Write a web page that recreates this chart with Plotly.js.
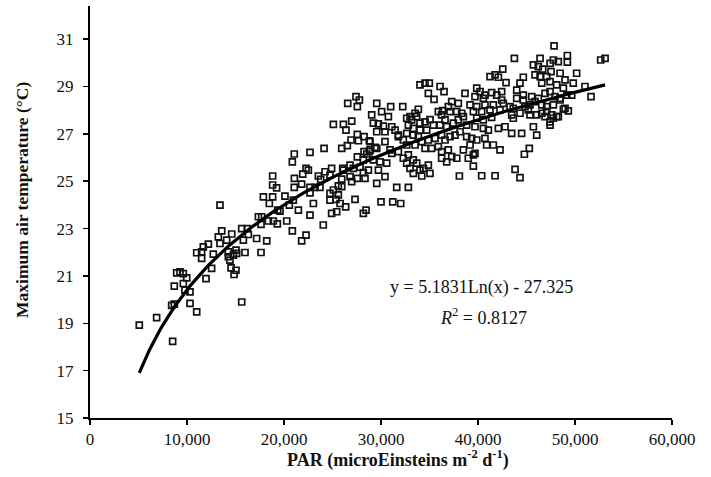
<!DOCTYPE html>
<html>
<head>
<meta charset="utf-8">
<script src="https://cdn.plot.ly/plotly-3.0.1.min.js"></script>
<style>
html,body{margin:0;padding:0;background:#fff;}
#chart{width:711px;height:477px;}
</style>
</head>
<body>
<div id="chart"></div>
<script>
// PAR (microEinsteins m-2 d-1)
const par = [
13400,17870,18830,18490,19350,17360,17700,18390,18900,19310,17630,15640,16220,13580,14610,13230,14090,16320,17180,15810,
18220,13400,12200,11680,11000,11510,11510,12710,14260,15050,14260,14780,15120,15980,17630,14430,12540,14540,15050,14850,
11960,8940,9280,9620,9970,9620,8690,9790,10310,15640,8420,8690,10310,11000,6870,5080,8520,18830,18830,19240,
27420,26570,27560,27770,25090,26120,26980,26390,27560,26910,27670,28250,28800,26530,25950,24130,22680,21060,20860,27560,
28180,28530,28250,28800,26810,26120,27150,27840,28180,28700,22270,22510,24910,26050,24230,21930,21070,23540,23780,24740,
25950,26810,27560,28350,26980,21820,21060,22680,23200,23710,25090,25600,25950,24740,25360,
20100,20960,20550,21480,19590,20280,20860,22270,21820,22680,23030,22680,24050,24740,25600,24910,25430,25780,26360,27320,28180,28460,
34020,34540,34980,36090,36500,34880,35470,38660,29560,31000,32240,30070,30760,29040,33850,33510,32990,37290,37970,36940,
36360,37120,37810,38320,29210,29730,30250,29560,30410,31110,31450,31790,32650,33160,33680,34020,34540,35050,35400,32820,
33330,34020,34710,35910,36250,36600,36090,36770,37460,37970,38490,38830,28870,29380,30410,30930,31790,32300,32650,33330,
33850,32650,33510,34200,34880,35570,34540,35220,35910,36250,36600,37120,37630,38150,38830,36250,36940,36250,37290,37810,
36770,38490,39000,29560,29210,29900,30590,29730,30410,29560,31110,31790,32300,32820,33330,33680,32650,32990,34020,34370,
34880,35050,33330,34200,38080,31620,32820,30000,31210,32030,28870,
47840,43750,46400,47770,48280,49210,49210,52650,53100,42550,41760,41240,42100,45710,46220,46670,47430,47530,47080,46400,
48460,48970,50170,49820,44670,44330,42890,42440,39870,40210,40720,41410,41930,45880,46570,47430,48110,48800,43990,44670,
45540,46220,46910,47430,47940,48460,49150,49660,51030,51650,39690,40550,42440,43990,44670,39180,39870,40720,41580,42610,
43300,44850,45360,45880,46570,47080,47770,48460,48970,39520,40380,41240,42270,43640,44330,45190,46050,46570,47080,47600,
48110,48800,49310,39870,40550,41410,43470,43640,45360,46910,47430,47770,48280,47430,39690,40550,41070,42100,42780,43470,
44500,45710,46050,39350,39870,40720,40890,41580,42270,39180,39520,39690,39520,40380,41760,43820,44330,44780,45290
];
// Maximum air temperature (°C)
const tmax = [
23.99,24.34,24.34,24.06,23.78,23.50,23.50,23.32,23.32,23.20,23.18,23.00,23.00,22.90,22.77,22.65,22.51,22.75,22.58,22.51,
22.48,22.37,22.34,22.23,21.98,22.02,21.74,21.92,22.02,22.09,21.81,21.88,21.95,21.99,21.99,21.67,21.32,21.34,21.24,21.06,
20.89,21.13,21.17,21.10,20.92,20.68,20.57,20.40,20.33,19.90,19.76,19.81,19.84,19.48,19.24,18.92,18.24,25.22,24.84,24.72,
28.57,28.29,28.15,28.43,27.40,27.40,27.54,27.16,26.98,26.74,26.71,26.88,26.71,26.50,26.39,26.39,26.22,26.15,25.82,26.03,
25.90,26.15,26.25,26.25,25.68,25.47,25.54,25.59,25.36,25.47,25.54,25.47,25.54,25.54,25.40,25.30,25.12,25.22,25.08,25.26,
25.09,25.19,25.12,25.12,24.98,24.88,24.74,24.74,24.74,24.74,24.63,24.80,24.77,24.49,24.23,
24.37,24.20,23.99,23.78,23.74,23.32,22.90,22.72,22.48,24.51,24.06,23.57,23.15,24.20,24.42,23.64,23.71,24.06,23.92,24.23,23.64,23.78,
29.07,29.14,29.14,29.00,28.78,28.71,28.46,28.71,28.29,28.15,28.15,27.94,27.73,27.80,28.04,27.87,27.73,28.36,28.29,28.15,
27.98,27.94,27.94,27.87,27.45,27.42,27.33,27.09,27.09,27.30,27.16,26.95,27.66,27.59,27.73,27.45,27.51,27.60,27.37,27.37,
27.23,27.16,27.16,27.94,27.80,27.59,27.37,27.30,27.45,27.59,27.73,27.37,26.67,26.43,26.67,26.32,26.88,26.74,27.02,26.95,
26.88,26.53,26.53,26.67,26.74,26.81,26.39,26.39,26.46,26.95,26.74,26.88,26.95,27.09,26.88,26.25,26.32,25.97,26.04,25.97,
25.82,26.32,25.97,26.39,25.90,25.82,25.76,25.47,25.19,24.91,26.18,26.25,25.97,26.11,25.90,25.76,25.76,25.54,25.47,25.54,
25.68,25.33,25.33,25.22,25.22,24.74,24.74,24.13,24.13,24.06,26.32,
30.72,30.19,30.19,30.12,30.05,30.31,30.03,30.12,30.19,29.73,29.49,29.42,29.39,29.91,29.84,29.73,29.98,29.63,29.42,29.42,
29.56,29.28,29.56,29.14,29.39,29.14,29.16,28.78,28.93,28.78,28.64,28.74,28.64,29.49,29.14,29.21,29.07,28.93,28.85,28.64,
28.57,28.50,28.71,28.78,28.57,28.50,28.64,28.64,29.00,28.57,28.57,28.50,28.43,28.50,28.43,28.22,28.15,28.22,28.22,28.29,
28.15,28.15,28.22,28.36,28.22,28.15,28.22,28.43,28.08,27.94,27.94,28.01,28.01,28.08,27.87,28.01,27.80,27.87,27.94,27.80,
27.73,28.04,27.97,27.66,27.59,27.70,27.80,27.66,27.80,27.73,27.51,27.66,27.73,27.37,27.30,27.23,27.16,27.23,27.30,27.02,
27.02,27.30,26.95,26.81,26.74,26.81,26.53,26.53,26.32,26.53,26.11,26.18,25.64,25.23,25.23,25.50,25.15,26.14,26.39
];
// Logarithmic trend line as printed on the chart: y = 5.1831 Ln(x) - 27.325
const trendSlope = 5.1831;
const trendIntercept = -27.325;
const xTicks = [0,10000,20000,30000,40000,50000,60000];
const yTicks = [15,17,19,21,23,25,27,29,31];

const n = Math.min(par.length, tmax.length);
const xs = par.slice(0,n), ys = tmax.slice(0,n);
const xmin = Math.min(...xs), xmax = Math.max(...xs);
const tx = [], ty = [];
for (let i = 0; i <= 120; i++) {
  const x = xmin * Math.pow(xmax / xmin, i / 120);
  tx.push(x);
  ty.push(trendSlope * Math.log(x) + trendIntercept);
}

const font = "'Liberation Serif', 'Times New Roman', serif";
const ink = '#111111';

const data = [
  {type:'scatter', mode:'markers', x:xs, y:ys,
   marker:{symbol:'square-open', size:6, color:ink, line:{width:1.7, color:ink}},
   hoverinfo:'skip', showlegend:false, cliponaxis:false},
  {type:'scatter', mode:'lines', x:tx, y:ty,
   line:{color:'#000', width:3.2}, hoverinfo:'skip', showlegend:false}
];

const layout = {
  width:711, height:477,
  margin:{l:90, r:39, t:6, b:59, pad:0},
  paper_bgcolor:'#fff', plot_bgcolor:'#fff',
  font:{family:font, size:17, color:ink},
  showlegend:false,
  xaxis:{
    range:[0,60000], tickvals:xTicks, tickformat:',d',
    showline:true, linecolor:'#000', linewidth:2,
    ticks:'outside', ticklen:5, tickwidth:1.5, tickcolor:'#000',
    showgrid:false, zeroline:false, fixedrange:true,
    tickfont:{family:font, size:17, color:ink}
  },
  yaxis:{
    range:[15,32.4], tickvals:yTicks,
    showline:true, linecolor:'#000', linewidth:2,
    ticks:'outside', ticklen:5, tickwidth:1.5, tickcolor:'#000',
    showgrid:false, zeroline:false, fixedrange:true,
    ticklabelstandoff:6,
    tickfont:{family:font, size:17, color:ink}
  },
  annotations:[
    {xref:'paper', yref:'paper', x:(398-90)/582, y:(418-459)/412, xanchor:'center', yanchor:'middle', showarrow:false,
     text:'<b>PAR (microEinsteins m<sup>-2</sup> d<sup>-1</sup>)</b>', font:{family:font, size:18, color:ink}},
    {xref:'paper', yref:'paper', x:-0.117, y:0.529, xanchor:'center', yanchor:'middle', showarrow:false, textangle:-90,
     text:'<b>Maximum air temperature (°C)</b>', font:{family:font, size:17.5, color:ink}},
    {xref:'paper', yref:'paper', x:(481.5-90)/582, y:(418-288)/412, xanchor:'center', yanchor:'middle', showarrow:false,
     text:'y = 5.1831Ln(x) - 27.325', font:{family:font, size:18, color:ink}},
    {xref:'paper', yref:'paper', x:(483.5-90)/582, y:(418-316)/412, xanchor:'center', yanchor:'middle', showarrow:false,
     text:'<i>R</i><sup>2</sup> = 0.8127', font:{family:font, size:18, color:ink}}
  ]
};

Plotly.newPlot('chart', data, layout, {staticPlot:true, displayModeBar:false});
</script>
</body>
</html>
